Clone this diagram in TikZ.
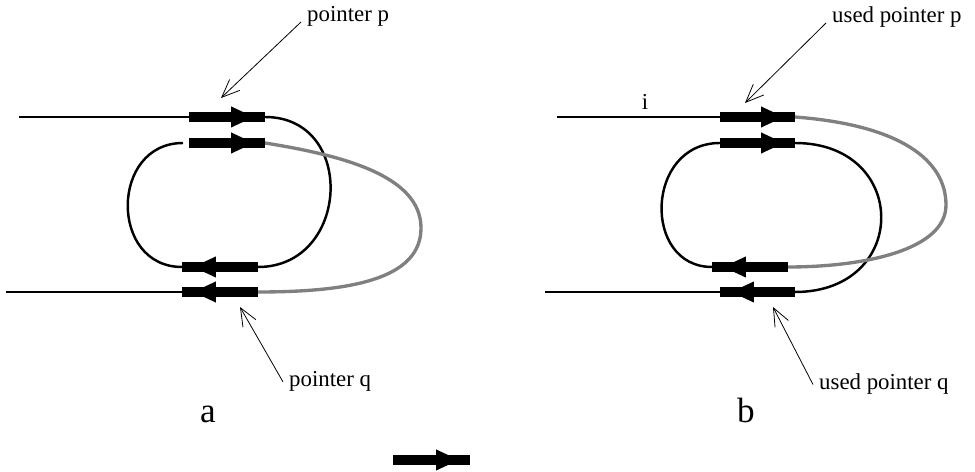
\documentclass[tikz,border=0pt]{standalone}
\usepackage{fontspec}
\setmainfont{Liberation Serif}
\usetikzlibrary{arrows.meta}

\begin{document}
\begin{tikzpicture}[x=0.02cm,y=-0.02cm,
      wire/.style={line width=1.4pt},
      greywire/.style={line width=1.9pt,draw=black!50},
      bar/.style={line width=5.7pt},
      head/.style={line width=0.5pt,-{Triangle[length=0.45cm,width=0.42cm]},shorten >=0.23cm},
      note/.style={line width=0.45pt,-{Straight Barb[length=0.36cm,width=0.3cm]}},
      lbl/.style={font=\fontsize{13}{15}\selectfont},
      panel/.style={font=\fontsize{20}{24}\selectfont}]
      \useasboundingbox (0,0) rectangle (975,472);

      % Panel a: pointer ends
      \coordinate (a0)  at (19,117);
      \coordinate (a1s) at (189,117); \coordinate (a1e) at (265,117);
      \coordinate (a2g) at (183,143);
      \coordinate (a2s) at (189,143); \coordinate (a2e) at (265,143);
      \coordinate (a3s) at (258,267); \coordinate (a3e) at (182,267);
      \coordinate (a4s) at (258,292); \coordinate (a4e) at (182,292);
      \coordinate (a5)  at (6,292);
      \coordinate (ag)  at (421,228);

      % Panel b: pointer ends
      \coordinate (b0)  at (557,117);
      \coordinate (b1s) at (720,117); \coordinate (b1e) at (795,117);
      \coordinate (b2s) at (720,143); \coordinate (b2e) at (795,143);
      \coordinate (b3s) at (788,267); \coordinate (b3e) at (712,267);
      \coordinate (b4s) at (795,292); \coordinate (b4e) at (720,292);
      \coordinate (b5)  at (545,292);
      \coordinate (bg)  at (946,205);

      % Legend arrow
      \coordinate (ls) at (393,460); \coordinate (le) at (470,460);

      % Wires of a
      \draw[wire] (a0) -- (a1s);
      \draw[wire] (a5) -- (a4e);
      \draw[wire] (a1e) .. controls +(92,0) and +(92,0) .. (a3s);
      \draw[wire] (a2g) .. controls +(-73,0) and +(-73,0) .. (a3e);
      \draw[greywire] (a2e) .. controls +(75,12) and +(0,-53) .. (ag)
                            .. controls +(0,52) and +(90,0) .. (a4s);

      % Wires of b
      \draw[wire] (b0) -- (b1s);
      \draw[wire] (b5) -- (b4e);
      \draw[wire] (b2s) .. controls +(-75,0) and +(-70,0) .. (b3e);
      \draw[wire] (b2e) .. controls +(115,0) and +(115,0) .. (b4s);
      \draw[greywire] (b1e) .. controls +(105,8) and +(0,-45) .. (bg)
                            .. controls +(0,45) and +(76,0) .. (b3s);

      % Thick pointers
      \foreach \s/\e in {a1s/a1e,a2s/a2e,a3s/a3e,a4s/a4e,
                         b1s/b1e,b2s/b2e,b3s/b3e,b4s/b4e,ls/le}{
        \draw[bar] (\s) -- (\e);
        \draw[head] (\s) -- (\e);
      }

      % Labels
      \node[lbl,anchor=base west] (lblp)  at (301,22)  {pointer p};
      \node[lbl,anchor=base west] (lblq)  at (283,387) {pointer q};
      \node[lbl,anchor=base west] (lblup) at (826,23)  {used pointer p};
      \node[lbl,anchor=base west] (lbluq) at (813,390) {used pointer q};
      \node[lbl,anchor=base] (lbli) at (645,110) {i};
      \node[panel,anchor=base] (pa) at (208,423) {a};
      \node[panel,anchor=base] (pb) at (746,423) {b};

      \coordinate (tp)  at (221,98);
      \coordinate (tq)  at (240,307);
      \coordinate (tup) at (745,103);
      \coordinate (tuq) at (773,307);
      \draw[note] (lblp.base west) -- (tp);
      \draw[note] (lblq.west) -- (tq);
      \draw[note] (lblup.base west) -- (tup);
      \draw[note] (lbluq.west) -- (tuq);
    \end{tikzpicture}
\end{document}
